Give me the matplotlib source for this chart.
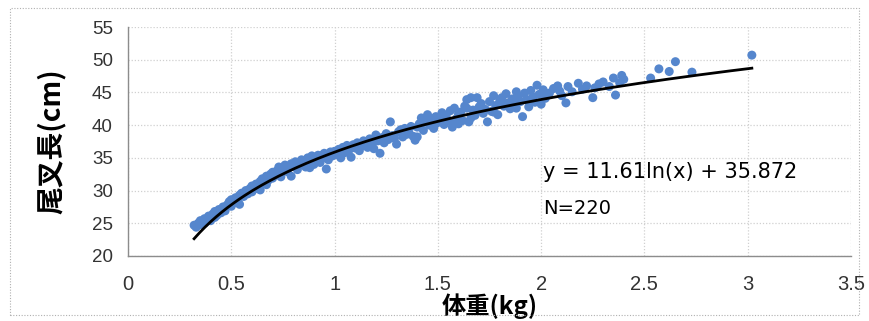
import numpy as np
import matplotlib
matplotlib.use("Agg")
import matplotlib.pyplot as plt
from matplotlib import font_manager
from matplotlib.patches import Rectangle

# body weight (kg) and fork length (cm)
weight = [
    0.32, 0.33, 0.34, 0.35, 0.35, 0.36, 0.37, 0.37, 0.38, 0.39, 0.39, 0.40,
    0.41, 0.42, 0.42, 0.43, 0.44, 0.45, 0.46, 0.47, 0.48, 0.49, 0.50, 0.50,
    0.51, 0.52, 0.53, 0.54, 0.54, 0.55, 0.56, 0.57, 0.58, 0.59, 0.60, 0.60,
    0.61, 0.62, 0.63, 0.64, 0.64, 0.65, 0.66, 0.67, 0.67, 0.68, 0.69, 0.70, 0.70,
    0.71, 0.72, 0.73, 0.73, 0.74, 0.75, 0.76, 0.77, 0.78, 0.79, 0.79, 0.80,
    0.81, 0.82, 0.83, 0.84, 0.85, 0.86, 0.87, 0.88, 0.88, 0.89, 0.90,
    0.91, 0.92, 0.93, 0.94, 0.95, 0.96, 0.96, 0.97, 0.98, 0.99, 1.00,
    1.01, 1.02, 1.03, 1.04, 1.05, 1.06, 1.07, 1.08, 1.09, 1.10,
    1.11, 1.12, 1.13, 1.14, 1.15, 1.16, 1.17, 1.18, 1.19, 1.20, 1.21, 1.22,
    1.23, 1.24, 1.25, 1.26, 1.27, 1.28, 1.29, 1.30, 1.31, 1.32, 1.33, 1.34,
    1.35, 1.36, 1.37, 1.38, 1.39, 1.40,
    1.40, 1.41, 1.42, 1.43, 1.44, 1.45, 1.46, 1.47, 1.48, 1.49, 1.50, 1.51,
    1.52, 1.53, 1.54, 1.55, 1.56, 1.57, 1.57, 1.58, 1.59, 1.60, 1.60,
    1.61, 1.62, 1.63, 1.64, 1.64, 1.65, 1.66, 1.66, 1.67, 1.68, 1.69, 1.70,
    1.71, 1.72, 1.73, 1.74, 1.75, 1.76, 1.77, 1.77, 1.78, 1.79, 1.80,
    1.81, 1.82, 1.83, 1.84, 1.85, 1.86, 1.87, 1.88, 1.88, 1.89, 1.90, 1.91,
    1.92, 1.93, 1.94, 1.95, 1.96, 1.97, 1.98, 1.99, 2.00, 2.01, 2.02, 2.03, 2.04,
    2.06, 2.08, 2.09, 2.10, 2.12, 2.13, 2.15, 2.18, 2.20, 2.22, 2.25, 2.26,
    2.28, 2.30, 2.33, 2.35, 2.36, 2.38, 2.39, 2.40, 2.53, 2.57, 2.62, 2.65,
    2.73, 3.02,
]
fork_length = [
    24.7, 24.4, 25.0, 25.4, 24.8, 25.1, 25.7, 25.0, 25.3, 26.1, 25.6, 25.4,
    26.4, 25.9, 26.8, 26.2, 27.1, 26.6, 27.5, 26.9, 27.8, 28.3, 27.6, 28.6,
    28.1, 28.9, 28.4, 29.3, 27.9, 29.6, 29.1, 30.0, 29.5, 30.3, 29.8, 30.7,
    30.2, 31.0, 30.5, 31.4, 30.1, 31.8, 31.2, 32.2, 30.9, 31.6, 32.5, 31.9, 32.8,
    32.3, 33.0, 32.6, 33.6, 32.1, 33.3, 33.9, 32.9, 33.5, 32.2, 34.1, 33.7,
    34.4, 33.2, 33.9, 34.7, 34.2, 33.6, 35.0, 33.5, 34.6, 35.3, 34.0,
    34.9, 35.4, 34.3, 35.4, 35.7, 33.3, 35.0, 34.7, 35.9, 35.3, 36.0,
    35.5, 36.3, 35.0, 36.6, 35.8, 36.9, 36.2, 35.1, 37.0, 36.5,
    37.3, 36.1, 36.8, 37.6, 37.4, 36.6, 37.9, 37.1, 36.4, 38.5, 37.6, 35.7,
    38.1, 37.3, 38.7, 37.8, 40.5, 38.4, 38.0, 37.1, 39.0, 39.3, 38.2, 39.5,
    38.6, 38.8, 39.8, 38.3, 37.7, 39.7,
    38.2, 40.2, 41.1, 39.2, 40.6, 41.6, 40.0, 40.9, 39.5, 41.3, 40.4, 40.8,
    41.9, 40.1, 41.4, 40.7, 42.2, 40.3, 39.7, 42.6, 41.0, 41.7, 40.2,
    42.0, 40.7, 42.9, 42.6, 43.9, 40.5, 44.2, 41.1, 42.3, 41.5, 44.2, 42.8,
    43.3, 41.8, 42.4, 40.5, 43.6, 42.1, 42.0, 44.5, 43.0, 41.6, 43.8,
    44.2, 42.9, 44.8, 43.4, 42.5, 44.0, 43.2, 45.1, 42.6, 44.4, 43.6, 41.3,
    44.9, 43.9, 42.8, 45.3, 44.3, 43.5, 46.1, 44.7, 43.2, 45.4, 44.1, 44.6, 44.9,
    45.6, 46.0, 45.2, 44.5, 43.4, 45.9, 45.1, 46.4, 45.5, 46.0, 44.2, 45.7,
    46.3, 46.6, 45.9, 47.2, 44.6, 46.5, 47.6, 47.0, 47.2, 48.6, 48.2, 49.7,
    48.1, 50.7,
]

# logarithmic trendline as printed on the chart
coef_a = 11.61
coef_b = 35.872

x_ticks = [0, 0.5, 1, 1.5, 2, 2.5, 3, 3.5]
y_ticks = [20, 25, 30, 35, 40, 45, 50, 55]

cjk = ["Noto Sans CJK JP", "DejaVu Sans"]
installed = {f.name for f in font_manager.fontManager.ttflist}
narrow = "Liberation Sans Narrow" if "Liberation Sans Narrow" in installed else "Liberation Sans"


def main():
    plt.rcParams["font.family"] = ["Liberation Sans", "DejaVu Sans"]

    fig = plt.figure(figsize=(8.69, 3.21), dpi=100)
    ax = fig.add_axes([128 / 869, 1 - 256 / 321, 723 / 869, 229 / 321])

    ax.scatter(weight, fork_length, s=42, color="#5586CD", edgecolors="none", zorder=3)

    xs = np.linspace(min(weight), max(weight), 200)
    ax.plot(xs, coef_a * np.log(xs) + coef_b, color="black", linewidth=2.0, zorder=4)

    ax.set_xlim(0, 3.5)
    ax.set_ylim(20, 55)
    ax.set_xticks(x_ticks)
    ax.set_xticklabels(["0", "0.5", "1", "1.5", "2", "2.5", "3", "3.5"],
                       family=narrow, fontsize=14.5)
    ax.set_yticks(y_ticks)
    ax.set_yticklabels([str(v) for v in y_ticks], fontsize=13.5)
    ax.tick_params(axis="both", length=0, colors="#333333")
    ax.tick_params(axis="x", pad=14)
    ax.tick_params(axis="y", pad=11)

    ax.grid(True, color="#d0d0d0", linestyle=(0, (1, 1.5)), linewidth=0.9, zorder=0)
    for side in ["top", "right"]:
        ax.spines[side].set_visible(False)
    for side in ["left", "bottom"]:
        ax.spines[side].set_color("#8c8c8c")
        ax.spines[side].set_linewidth(1.0)

    ax.set_xlabel("体重(kg)", family=cjk, fontsize=17.5, fontweight="bold", labelpad=-1)
    ax.set_ylabel("尾叉長(cm)", family=cjk, fontsize=20, fontweight="bold", labelpad=19)

    ax.text(2.01, 32.8, "y = 11.61ln(x) + 35.872", family="DejaVu Sans",
            fontsize=15, va="center", ha="left")
    ax.text(2.01, 27.2, "N=220", family="DejaVu Sans", fontsize=14, va="center", ha="left")

    fig.patches.append(Rectangle((0.011, 0.02), 0.978, 0.955, transform=fig.transFigure,
                                 fill=False, edgecolor="#b0b0b0", linestyle=(0, (1, 1.5)),
                                 linewidth=0.8))

    fig.savefig("out.png", dpi=100)
    plt.close(fig)


if __name__ == "__main__":
    main()
